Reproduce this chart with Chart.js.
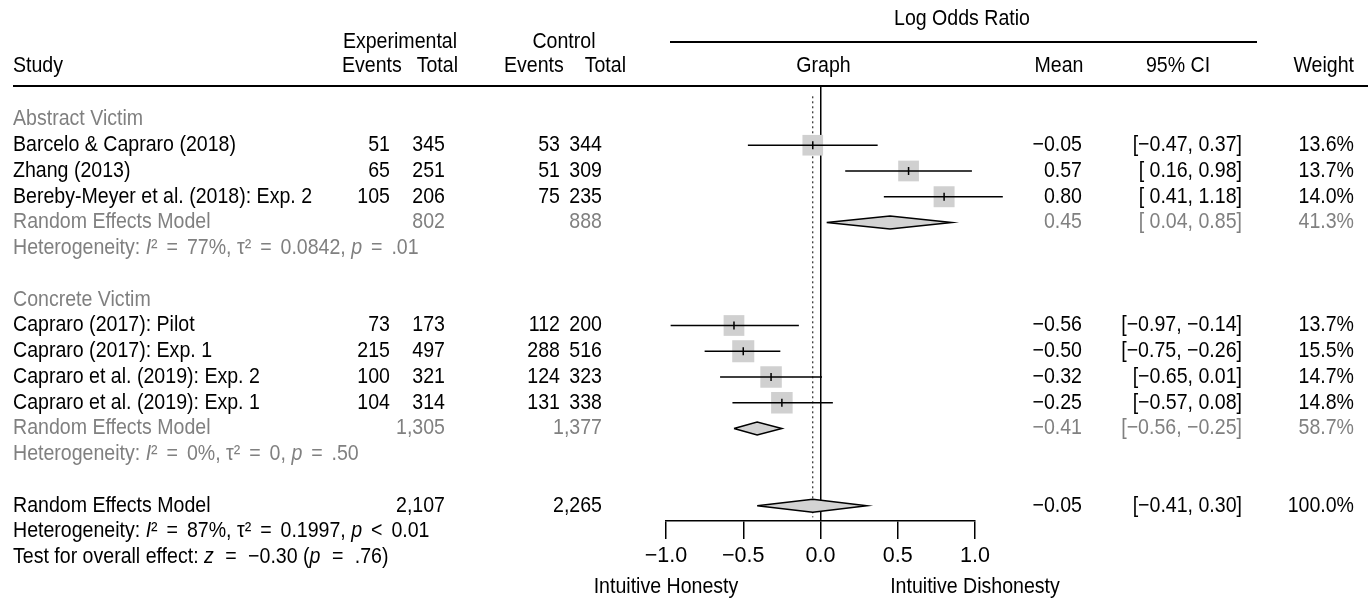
<!DOCTYPE html>
<html>
<head>
<meta charset="utf-8">
<script src="https://cdn.jsdelivr.net/npm/chart.js@4.4.1/dist/chart.umd.min.js"></script>
<style>
  html, body { margin: 0; padding: 0; background: #fff; }
  canvas { display: block; }
</style>
</head>
<body>
<canvas id="forest" width="1372" height="601"></canvas>
<script>
'use strict';

// study level data
const studies = [
  'Barcelo & Capraro (2018)',
  'Zhang (2013)',
  'Bereby-Meyer et al. (2018): Exp. 2',
  'Capraro (2017): Pilot',
  'Capraro (2017): Exp. 1',
  'Capraro et al. (2019): Exp. 2',
  'Capraro et al. (2019): Exp. 1'
];
const studyRows = [1, 2, 3, 8, 9, 10, 11];
const expEvents = [51, 65, 105, 73, 215, 100, 104];
const expTotal = [345, 251, 206, 173, 497, 321, 314];
const ctrlEvents = [53, 51, 75, 112, 288, 124, 131];
const ctrlTotal = [344, 309, 235, 200, 516, 323, 338];
const means = [-0.05, 0.57, 0.80, -0.56, -0.50, -0.32, -0.25];
const lower = [-0.47, 0.16, 0.41, -0.97, -0.75, -0.65, -0.57];
const upper = [0.37, 0.98, 1.18, -0.14, -0.26, 0.01, 0.08];
const weights = [13.6, 13.7, 14.0, 13.7, 15.5, 14.7, 14.8];

// pooled (random effects) rows
const pooledRows = [4, 12, 15];
const pooledMean = [0.45, -0.41, -0.05];
const pooledLower = [0.04, -0.56, -0.41];
const pooledUpper = [0.85, -0.25, 0.30];
const pooledWeight = ['41.3%', '58.7%', '100.0%'];
const pooledExpTotal = ['802', '1,305', '2,107'];
const pooledCtrlTotal = ['888', '1,377', '2,265'];

const groupLabels = ['Abstract Victim', 'Concrete Victim'];
const groupRows = [0, 7];

const hetRows = [5, 13, 16];
const hetI2 = ['77%', '0%', '87%'];
const hetTau2 = ['0.0842', '0', '0.1997'];
const hetP = [['=', '.01'], ['=', '.50'], ['<', '0.01']];
const testRow = 17;

const xTicks = [-1, -0.5, 0, 0.5, 1];
const sideLabels = ['Intuitive Honesty', 'Intuitive Dishonesty'];

const FONT = '"Liberation Sans", Arial, sans-serif';
const FS = 21.5;
const SX = 0.91;      // narrow the face to look like Helvetica Narrow
const GREY = '#808080';

// column anchors
const COL = {
  study: 13, expEv: 390, expTot: 445, ctlEv: 560, ctlTot: 602,
  mean: 1082, ci: 1242, weight: 1354
};

const minus = s => String(s).replace(/-/g, '\u2212');
const fmt2 = v => minus(v.toFixed(2));
const fmtCI = (lo, hi) => '[' + (lo < 0 ? fmt2(lo) : ' ' + fmt2(lo)) + ', ' + fmt2(hi) + ']';

// CI segments, broken with gaps
const ciData = [];
studies.forEach((s, i) => {
  ciData.push({ x: lower[i], y: studyRows[i] });
  ciData.push({ x: upper[i], y: studyRows[i] });
  ciData.push({ x: upper[i], y: null });
});

const squareData = studies.map((s, i) => ({ x: means[i], y: studyRows[i] }));
const squareRadius = weights.map(w => 5.6 * Math.sqrt(w) / Math.SQRT2);

const DH = 0.25;
const diamondSets = pooledRows.map((r, i) => ({
  data: [
    { x: pooledLower[i], y: r },
    { x: pooledMean[i], y: r - DH },
    { x: pooledUpper[i], y: r },
    { x: pooledMean[i], y: r + DH },
    { x: pooledLower[i], y: r }
  ],
  showLine: true,
  fill: 'shape',
  backgroundColor: '#d3d3d3',
  borderColor: '#000',
  borderWidth: 1.5,
  pointRadius: 0,
  tension: 0,
  order: 1
}));

const textPlugin = {
  id: 'forestText',
  afterDraw(chart) {
    const ctx = chart.ctx;
    const ys = chart.scales.y;
    const xs = chart.scales.x;
    const rowY = r => ys.getPixelForValue(r);

    const setFont = it => { ctx.font = (it ? 'italic ' : '') + FS + 'px ' + FONT; };
    const put = (t, x, y, align, color, italic) => {
      ctx.save();
      ctx.translate(x, y);
      ctx.scale(SX, 1);
      setFont(italic);
      ctx.fillStyle = color || '#000';
      ctx.textAlign = align || 'left';
      ctx.fillText(t, 0, 0);
      ctx.restore();
    };
    // mixed runs: strings are upright, {i: text} italic, numbers are extra gaps
    const runs = (parts, x, y, color) => {
      parts.forEach(p => {
        if (typeof p === 'number') { x += p; return; }
        const it = typeof p === 'object';
        const t = it ? p.i : p;
        put(t, x, y, 'left', color, it);
        setFont(it);
        x += ctx.measureText(t).width * SX;
      });
    };
    const G = 3.5;
    const GT = 6;

    ctx.save();
    ctx.textBaseline = 'middle';

    // header
    put('Log Odds Ratio', 962, 19, 'center');
    ctx.strokeStyle = '#000';
    ctx.lineWidth = 2;
    ctx.beginPath();
    ctx.moveTo(670, 42); ctx.lineTo(1257, 42);
    ctx.moveTo(13, 86); ctx.lineTo(1368, 86);
    ctx.stroke();
    put('Experimental', 400, 42, 'center');
    put('Control', 564, 42, 'center');
    put('Study', COL.study, 66);
    put('Events', 342, 66, 'left');
    put('Total', 458, 66, 'right');
    put('Events', 504, 66, 'left');
    put('Total', 626, 66, 'right');
    put('Graph', xs.getPixelForValue(0) + 3, 66, 'center');
    put('Mean', 1059, 66, 'center');
    put('95% CI', 1178, 66, 'center');
    put('Weight', COL.weight, 66, 'right');

    groupLabels.forEach((g, i) => put(g, COL.study, rowY(groupRows[i]), 'left', GREY));

    studies.forEach((s, i) => {
      const y = rowY(studyRows[i]);
      put(s, COL.study, y);
      put(String(expEvents[i]), COL.expEv, y, 'right');
      put(String(expTotal[i]), COL.expTot, y, 'right');
      put(String(ctrlEvents[i]), COL.ctlEv, y, 'right');
      put(String(ctrlTotal[i]), COL.ctlTot, y, 'right');
      put(fmt2(means[i]), COL.mean, y, 'right');
      put(fmtCI(lower[i], upper[i]), COL.ci, y, 'right');
      put(weights[i].toFixed(1) + '%', COL.weight, y, 'right');
    });

    pooledRows.forEach((r, i) => {
      const y = rowY(r);
      const c = i < 2 ? GREY : '#000';
      put('Random Effects Model', COL.study, y, 'left', c);
      put(pooledExpTotal[i], COL.expTot, y, 'right', c);
      put(pooledCtrlTotal[i], COL.ctlTot, y, 'right', c);
      put(fmt2(pooledMean[i]), COL.mean, y, 'right', c);
      put(fmtCI(pooledLower[i], pooledUpper[i]), COL.ci, y, 'right', c);
      put(pooledWeight[i], COL.weight, y, 'right', c);
    });

    hetRows.forEach((r, i) => {
      const c = i < 2 ? GREY : '#000';
      runs([
        'Heterogeneity: ', { i: 'I' }, '\u00b2 ', G, '= ', G, hetI2[i] + ', \u03c4\u00b2 ', G, '= ', G,
        hetTau2[i] + ', ', { i: 'p' }, ' ', G, hetP[i][0] + ' ', G, hetP[i][1]
      ], COL.study, rowY(r), c);
    });
    runs([
      'Test for overall effect: ', { i: 'z' }, ' ', GT, '= ', GT, '\u22120.30 (', { i: 'p' }, ' ', GT, '= ', GT, '.76)'
    ], COL.study, rowY(testRow), '#000');

    // direction labels under the axis ends
    put(sideLabels[0], xs.getPixelForValue(xTicks[0]), 587, 'center');
    put(sideLabels[1], xs.getPixelForValue(xTicks[xTicks.length - 1]), 587, 'center');

    ctx.restore();
  }
};

new Chart(document.getElementById('forest'), {
  type: 'scatter',
  data: {
    datasets: [
      {
        // confidence intervals
        data: ciData,
        showLine: true,
        spanGaps: false,
        borderColor: '#000',
        borderWidth: 1.5,
        pointRadius: 0,
        order: 2
      },
      {
        // study weights as grey squares
        data: squareData,
        pointStyle: 'rect',
        pointRadius: squareRadius,
        backgroundColor: '#d0d0d0',
        borderWidth: 0,
        order: 3
      },
      {
        // point estimate tick
        data: squareData,
        pointStyle: 'line',
        rotation: 90,
        pointRadius: 4,
        borderColor: '#000',
        borderWidth: 1.5,
        order: 0
      },
      ...diamondSets,
      {
        // overall effect reference line
        data: [{ x: pooledMean[2], y: -0.9 }, { x: pooledMean[2], y: 15.45 }],
        showLine: true,
        borderColor: '#000',
        borderWidth: 1,
        borderDash: [2, 3],
        pointRadius: 0,
        order: 4
      }
    ]
  },
  options: {
    responsive: false,
    animation: false,
    clip: false,
    layout: { padding: { left: 666, right: 397, top: 86, bottom: 0 } },
    plugins: { legend: { display: false }, tooltip: { enabled: false } },
    scales: {
      x: {
        type: 'linear',
        min: -1,
        max: 1,
        afterBuildTicks: s => { s.ticks = xTicks.map(v => ({ value: v })); },
        ticks: {
          callback: v => minus(v.toFixed(1)),
          color: '#000',
          font: { family: FONT, size: FS },
          padding: 4,
          maxRotation: 0,
          autoSkip: false
        },
        grid: {
          drawOnChartArea: true,
          color: c => (c.tick && c.tick.value === 0 ? '#000' : 'rgba(0,0,0,0)'),
          lineWidth: 1.5,
          tickLength: 18,
          tickColor: '#000',
          tickWidth: 1.5
        },
        border: { display: true, color: '#000', width: 1.5 },
        afterFit: s => { s.height = 80; }
      },
      y: {
        type: 'linear',
        min: -1.3,
        max: 15.592,
        reverse: true,
        display: false
      }
    }
  },
  plugins: [textPlugin]
});
</script>
</body>
</html>
